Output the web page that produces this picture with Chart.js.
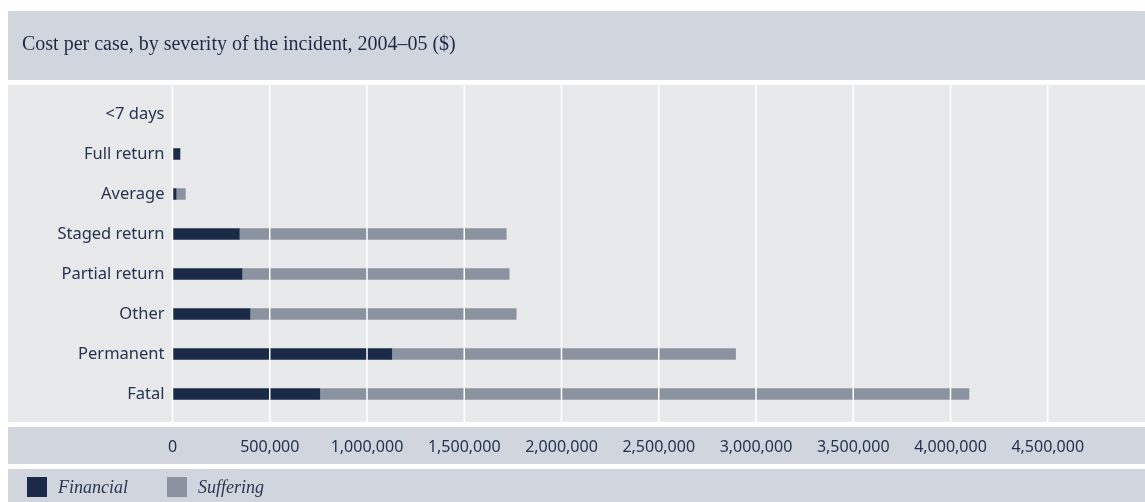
<!DOCTYPE html>
<html>
<head>
<meta charset="utf-8">
<script src="https://cdn.jsdelivr.net/npm/chart.js@4.4.0/dist/chart.umd.min.js"></script>
<style>
  html, body { margin: 0; padding: 0; background: #ffffff; }
  #c { display: block; }
</style>
</head>
<body>
<canvas id="c" width="1145" height="502"></canvas>
<script>
// Cost per case by severity of the incident, 2004–05 ($)
const categories = ['<7 days', 'Full return', 'Average', 'Staged return', 'Partial return', 'Other', 'Permanent', 'Fatal'];
const financial = [0, 38000, 18000, 343000, 357000, 398000, 1127000, 757000];
const suffering = [0, 0, 48000, 1373000, 1374000, 1369000, 1768000, 3338000];
const tickValues = [0, 500000, 1000000, 1500000, 2000000, 2500000, 3000000, 3500000, 4000000, 4500000];
const seriesNames = ['Financial', 'Suffering'];
const titleText = 'Cost per case, by severity of the incident, 2004–05 ($)';

const NAVY = '#1b2a47';
const GREY = '#8c93a0';
const BAND = '#d1d5dd';
const PLOT_BG = '#e8e9eb';
const TEXT = '#243350';

// Background panels, title, grid lines and legend around the bar plot
const panels = {
  id: 'panels',
  beforeDraw(chart) {
    const { ctx, width } = chart;
    ctx.save();
    ctx.fillStyle = '#ffffff';
    ctx.fillRect(0, 0, width, chart.height);
    ctx.fillStyle = BAND;
    ctx.fillRect(8, 11, width - 8, 69);
    ctx.fillStyle = PLOT_BG;
    ctx.fillRect(8, 85, width - 8, 337);
    ctx.fillStyle = BAND;
    ctx.fillRect(8, 427, width - 8, 37);
    ctx.fillRect(8, 469, width - 8, 33);

    ctx.fillStyle = '#1d2a45';
    ctx.font = '20px "Liberation Serif", serif';
    ctx.textBaseline = 'middle';
    ctx.textAlign = 'left';
    ctx.fillText(titleText, 22, 45);
    ctx.restore();
  },
  afterDatasetsDraw(chart) {
    const { ctx } = chart;
    const x = chart.scales.x;
    ctx.save();
    ctx.strokeStyle = '#ffffff';
    ctx.lineWidth = 1.5;
    tickValues.forEach(v => {
      const px = x.getPixelForValue(v);
      ctx.beginPath();
      ctx.moveTo(px, 85);
      ctx.lineTo(px, 422);
      ctx.stroke();
    });
    ctx.restore();
  },
  afterDraw(chart) {
    const { ctx } = chart;
    ctx.save();
    ctx.font = 'italic 18px "Liberation Serif", serif';
    ctx.textBaseline = 'middle';
    ctx.textAlign = 'left';
    const boxX = [27, 167];
    chart.data.datasets.forEach((ds, i) => {
      ctx.fillStyle = ds.backgroundColor;
      ctx.fillRect(boxX[i], 477, 20, 20);
      ctx.fillStyle = '#2a3652';
      ctx.fillText(ds.label, boxX[i] + 31, 488);
    });
    ctx.restore();
  }
};

new Chart(document.getElementById('c'), {
  type: 'bar',
  data: {
    labels: categories,
    datasets: [
      { label: seriesNames[0], data: financial, backgroundColor: NAVY, borderWidth: 0, barThickness: 11 },
      { label: seriesNames[1], data: suffering, backgroundColor: GREY, borderWidth: 0, barThickness: 11 }
    ]
  },
  options: {
    indexAxis: 'y',
    responsive: false,
    animation: false,
    devicePixelRatio: 1,
    layout: { padding: { top: 94, left: 0, right: 0, bottom: 38 } },
    plugins: {
      legend: { display: false },
      title: { display: false },
      tooltip: { enabled: false }
    },
    scales: {
      x: {
        type: 'linear',
        stacked: true,
        min: 0,
        max: 5000000,
        position: 'bottom',
        grid: { display: false, drawTicks: false },
        border: { display: false },
        afterBuildTicks: s => { s.ticks = tickValues.map(v => ({ value: v })); },
        afterFit: s => { s.height = 50; },
        ticks: {
          color: TEXT,
          padding: 24,
          font: { family: '"Noto Sans", sans-serif', size: 16 },
          callback: v => Number(v).toLocaleString('en-US')
        }
      },
      y: {
        type: 'category',
        stacked: true,
        grid: { display: false, drawTicks: false },
        border: { display: false },
        afterFit: s => { s.width = 172.5; },
        ticks: {
          color: TEXT,
          padding: 8,
          font: { family: '"Noto Sans", sans-serif', size: 16.5 }
        }
      }
    }
  },
  plugins: [panels]
});
</script>
</body>
</html>
